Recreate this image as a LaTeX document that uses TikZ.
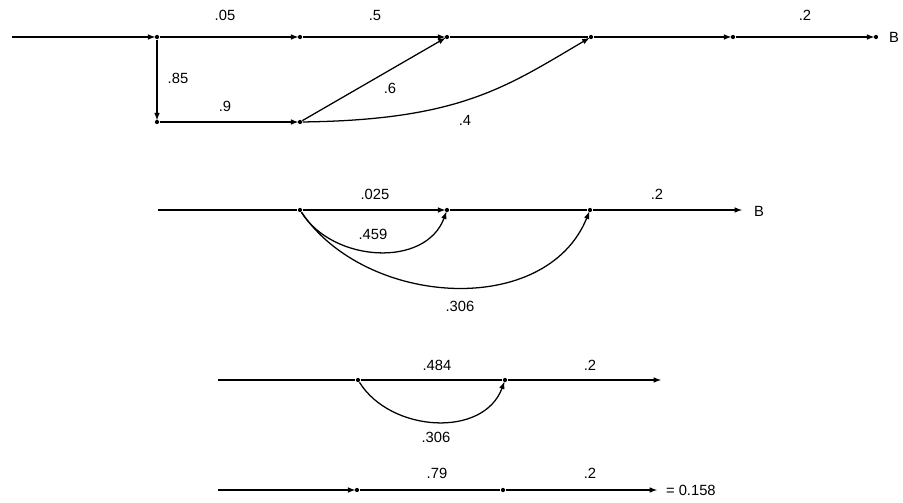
\documentclass[tikz,border=0pt]{standalone}
\usepackage{fontspec}
\setmainfont{Liberation Sans}
\usetikzlibrary{arrows.meta}

\begin{document}
\begin{tikzpicture}[
  x=0.025cm, y=0.025cm,
  line width=0.9pt,
  pt/.style={circle, fill, inner sep=0pt, minimum size=3pt},
  br/.style={-{Latex[length=5.5pt,width=4pt]}, shorten >=-1pt},
  lbl/.style={font=\fontsize{10.5}{12}\selectfont, inner sep=1pt},
]
  \useasboundingbox (0,0) rectangle (903,502);

  % first graph
  \coordinate (p0) at (12,465);
  \node[pt] (p1) at (157,465) {};
  \node[pt] (p2) at (300,465) {};
  \node[pt] (p3) at (447,465) {};
  \node[pt] (p4) at (591,465) {};
  \node[pt] (p5) at (733,465) {};
  \node[pt] (p6) at (876,465) {};
  \node[pt] (q1) at (157,380) {};
  \node[pt] (q2) at (300,380) {};
  \draw[br] (p0) -- (p1);
  \draw[br] (p1) -- (p2);
  \draw[br] (p2) -- (p3);
  \draw (p3) -- (p4);
  \draw[br] (p4) -- (p5);
  \draw[br] (p5) -- (p6);
  \draw[br] (p1) -- (q1);
  \draw[br] (q1) -- (q2);
  \draw[br] (q2) -- (p3);
  \draw[br] (q2) .. controls +(160,2) and +(-85,-50) .. (p4);
  \node[lbl] (l05) at (225,487) {.05};
  \node[lbl] (l5) at (375,487) {.5};
  \node[lbl] (l2a) at (805,487) {.2};
  \node[lbl] (lBa) at (894,465) {B};
  \node[lbl] (l85) at (178,424) {.85};
  \node[lbl] (l9) at (225,396) {.9};
  \node[lbl] (l6) at (390,414) {.6};
  \node[lbl] (l4) at (465,382) {.4};

  % second graph
  \coordinate (s0) at (158,292);
  \node[pt] (s1) at (300,292) {};
  \node[pt] (s2) at (447,292) {};
  \node[pt] (s3) at (590,292) {};
  \coordinate (s4) at (741,292);
  \draw (s0) -- (s1);
  \draw[br] (s1) -- (s2);
  \draw (s2) -- (s3);
  \draw[br] (s3) -- (s4);
  \draw[br] (s1) to[out=-58, in=-110, looseness=1.05] (s2);
  \draw[br] (s1) to[out=-56, in=-112, looseness=1.02] (s3);
  \node[lbl] (l025) at (375,308) {.025};
  \node[lbl] (l2b) at (657,308) {.2};
  \node[lbl] (lBb) at (759,291) {B};
  \node[lbl] (l459) at (373,268) {.459};
  \node[lbl] (l306a) at (460,196) {.306};

  % third graph
  \coordinate (t0) at (218,122);
  \node[pt] (t1) at (358,122) {};
  \node[pt] (t2) at (505,122) {};
  \coordinate (t3) at (660,122);
  \draw (t0) -- (t1);
  \draw (t1) -- (t2);
  \draw[br] (t2) -- (t3);
  \draw[br] (t1) to[out=-58, in=-110, looseness=1.05] (t2);
  \node[lbl] (l484) at (437,137) {.484};
  \node[lbl] (l2c) at (590,137) {.2};
  \node[lbl] (l306b) at (436,65) {.306};

  % fourth graph
  \coordinate (u0) at (218,12);
  \node[pt] (u1) at (357,12) {};
  \node[pt] (u2) at (503,12) {};
  \coordinate (u3) at (656,12);
  \draw[br] (u0) -- (u1);
  \draw (u1) -- (u2);
  \draw[br] (u2) -- (u3);
  \node[lbl] (l79) at (437,29) {.79};
  \node[lbl] (l2d) at (590,29) {.2};
  \node[lbl, anchor=west] (res) at (664,12) {= 0.158};
\end{tikzpicture}
\end{document}
